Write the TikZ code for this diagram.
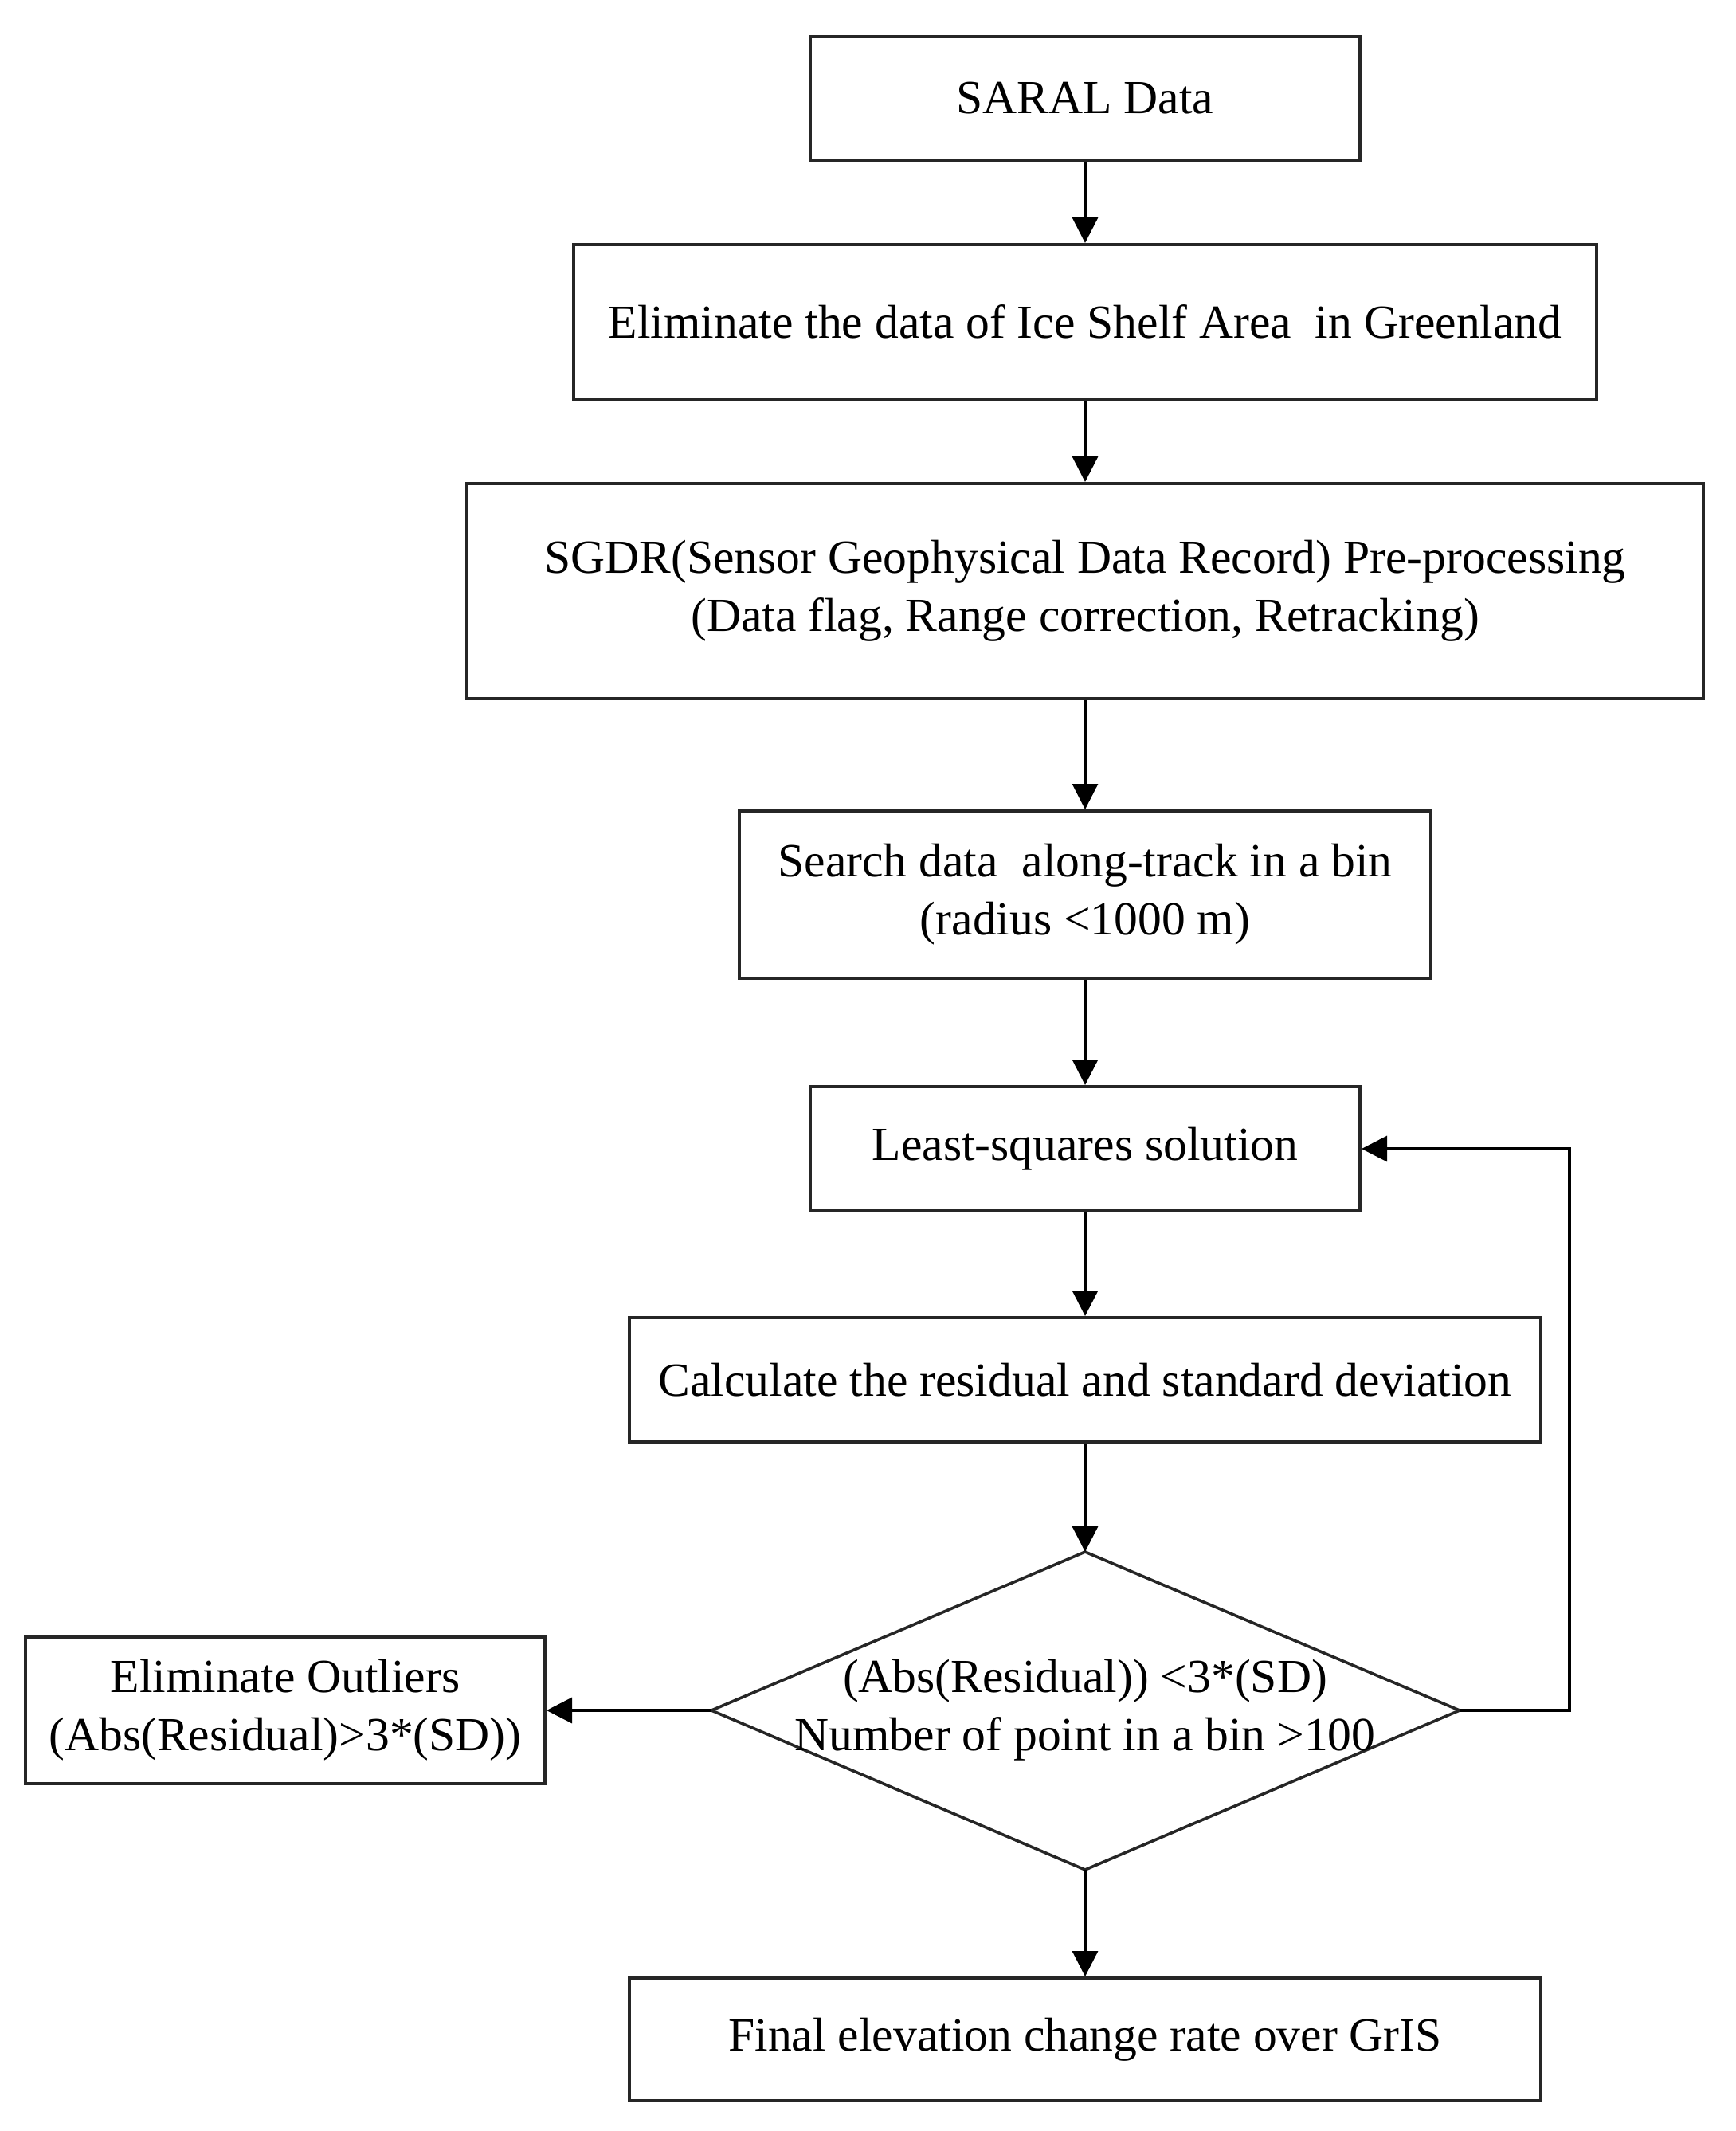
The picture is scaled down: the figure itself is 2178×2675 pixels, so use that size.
\documentclass[tikz,border=0pt]{standalone}
\usepackage{fontspec}
\setmainfont{Liberation Serif}
\usetikzlibrary{arrows.meta}
\begin{document}
\begin{tikzpicture}[x=0.25pt,y=-0.25pt,
  txt/.style={inner sep=0pt,align=center,font=\fontsize{14.9}{18.3}\selectfont},
  box/.style={txt,draw=black!85,line width=1pt,rectangle},
  decline/.style={draw=black!85,line width=0.9pt,line join=miter},
  arr/.style={line width=0.8pt,-{Triangle[length=8pt,width=8pt]}}]
\useasboundingbox[fill=white] (0,0) rectangle (2178,2675);
\node[box,minimum width=172.5pt,minimum height=38.75pt] (saral) at (1362,123.5) {SARAL Data};
\node[box,minimum width=321pt,minimum height=48.5pt] (elim) at (1362,404) {Eliminate the data of Ice Shelf Area\ \ in Greenland};
\node[box,minimum width=388pt,minimum height=67.5pt] (sgdr) at (1362,742) {SGDR(Sensor Geophysical Data Record) Pre-processing\\(Data flag, Range correction, Retracking)};
\node[box,minimum width=217pt,minimum height=52.5pt] (search) at (1362,1123) {Search data\ \ along-track in a bin\\(radius <1000 m)};
\node[box,minimum width=172.5pt,minimum height=39pt] (lsq) at (1362,1442) {Least-squares solution};
\node[box,minimum width=286pt,minimum height=39pt] (calc) at (1362,1732) {Calculate the residual and standard deviation};
\coordinate (diaN) at (1362,1948);
\coordinate (diaE) at (1832,2147);
\coordinate (diaS) at (1362,2347);
\coordinate (diaW) at (893,2147);
\draw[decline] (diaN) -- (diaE) -- (diaS) -- (diaW) -- cycle;
\node[txt] (dia) at (1362,2147) {(Abs(Residual)) <3*(SD)\\Number of point in a bin >100};
\node[box,minimum width=163pt,minimum height=46pt] (out) at (358,2147) {Eliminate Outliers\\(Abs(Residual)>3*(SD))};
\node[box,minimum width=286pt,minimum height=38.5pt] (final) at (1362,2560) {Final elevation change rate over GrIS};
\coordinate (fb1) at (1970,2147);
\coordinate (fb2) at (1970,1442);
\draw[arr] (saral) -- (elim);
\draw[arr] (elim) -- (sgdr);
\draw[arr] (sgdr) -- (search);
\draw[arr] (search) -- (lsq);
\draw[arr] (lsq) -- (calc);
\draw[arr] (calc) -- (diaN);
\draw[arr] (diaS) -- (final);
\draw[arr] (diaW) -- (out.east);
\draw[arr] (diaE) -- (fb1) -- (fb2) -- (lsq.east);
\end{tikzpicture}
\end{document}
